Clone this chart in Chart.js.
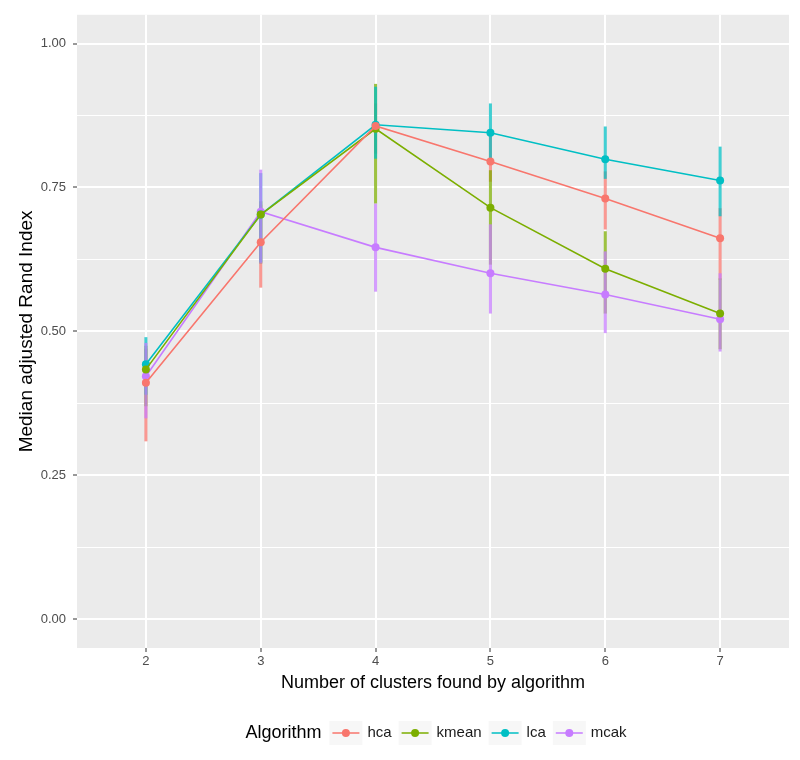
<!DOCTYPE html>
<html>
<head>
<meta charset="utf-8">
<script src="https://cdn.jsdelivr.net/npm/chart.js@4.4.1/dist/chart.umd.min.js"></script>
<style>
    html, body { margin: 0; padding: 0; background: #fff; }
</style>
</head>
<body>
<canvas id="chart" width="800" height="760"></canvas>
<script>
// Values
const clusters = [2, 3, 4, 5, 6, 7];
const algorithms = ['hca', 'kmean', 'lca', 'mcak'];

const hcaMedian = [0.411, 0.655, 0.857, 0.795, 0.731, 0.662];
const hcaLow = [0.309, 0.576, 0.809, 0.760, 0.677, 0.590];
const hcaHigh = [0.470, 0.720, 0.896, 0.839, 0.778, 0.714];

const kmeanMedian = [0.434, 0.703, 0.852, 0.715, 0.609, 0.531];
const kmeanLow = [0.370, 0.618, 0.722, 0.616, 0.531, 0.469];
const kmeanHigh = [0.475, 0.726, 0.930, 0.780, 0.674, 0.592];

const lcaMedian = [0.443, 0.703, 0.859, 0.845, 0.799, 0.762];
const lcaLow = [0.390, 0.620, 0.800, 0.790, 0.765, 0.700];
const lcaHigh = [0.490, 0.775, 0.925, 0.896, 0.856, 0.821];

const mcakMedian = [0.422, 0.708, 0.646, 0.601, 0.564, 0.521];
const mcakLow = [0.349, 0.618, 0.569, 0.531, 0.497, 0.465];
const mcakHigh = [0.480, 0.781, 0.722, 0.686, 0.639, 0.601];

const yTicks = [0, 0.25, 0.5, 0.75, 1];

const medians = [hcaMedian, kmeanMedian, lcaMedian, mcakMedian];
const lows = [hcaLow, kmeanLow, lcaLow, mcakLow];
const highs = [hcaHigh, kmeanHigh, lcaHigh, mcakHigh];
const colors = ['#F8766D', '#7CAE00', '#00BFC4', '#C77CFF'];

const FONT = "'Liberation Sans', Arial, sans-serif";

// major + minor grid positions (ggplot style)
const yGrid = [];
yTicks.forEach((v, i) => {
    yGrid.push(v);
    if (i < yTicks.length - 1) yGrid.push((v + yTicks[i + 1]) / 2);
});

function alpha(hex, a) {
    const n = parseInt(hex.slice(1), 16);
    return `rgba(${(n >> 16) & 255}, ${(n >> 8) & 255}, ${n & 255}, ${a})`;
}

const panelBackground = {
    id: 'panelBackground',
    beforeDraw(chart) {
        const { ctx, chartArea: a } = chart;
        ctx.save();
        ctx.fillStyle = '#EBEBEB';
        ctx.fillRect(a.left, a.top, a.right - a.left, a.bottom - a.top);
        ctx.restore();
    }
};

const errorBars = {
    id: 'errorBars',
    beforeDatasetsDraw(chart) {
        const { ctx, scales: { x, y } } = chart;
        ctx.save();
        ctx.lineWidth = 3;
        chart.data.datasets.forEach((ds) => {
            ctx.strokeStyle = alpha(ds.borderColor, 0.75);
            clusters.forEach((c, j) => {
                const px = x.getPixelForValue(c);
                ctx.beginPath();
                ctx.moveTo(px, y.getPixelForValue(ds.low[j]));
                ctx.lineTo(px, y.getPixelForValue(ds.high[j]));
                ctx.stroke();
            });
        });
        ctx.restore();
    }
};

// legend laid out horizontally under the plot, title on the left
const ggLegend = {
    id: 'ggLegend',
    afterDraw(chart) {
        const { ctx } = chart;
        const cy = 733;
        const keyW = 33, keyH = 24;
        ctx.save();
        ctx.textBaseline = 'middle';
        ctx.font = `18px ${FONT}`;
        const titleW = ctx.measureText('Algorithm').width;
        ctx.font = `15px ${FONT}`;
        const labelW = algorithms.map(a => ctx.measureText(a).width);
        const total = titleW + 8 + labelW.reduce((s, w) => s + keyW + 5 + w, 0) + 7 * (algorithms.length - 1);
        let x = 436 - total / 2;

        ctx.fillStyle = '#000';
        ctx.font = `18px ${FONT}`;
        ctx.fillText('Algorithm', x, cy);
        x += titleW + 8;

        ctx.font = `15px ${FONT}`;
        algorithms.forEach((name, i) => {
            ctx.fillStyle = '#F7F7F7';
            ctx.fillRect(x, cy - keyH / 2, keyW, keyH);
            ctx.strokeStyle = colors[i];
            ctx.lineWidth = 1.5;
            ctx.beginPath();
            ctx.moveTo(x + 3, cy);
            ctx.lineTo(x + keyW - 3, cy);
            ctx.stroke();
            ctx.fillStyle = colors[i];
            ctx.beginPath();
            ctx.arc(x + keyW / 2, cy, 4, 0, Math.PI * 2);
            ctx.fill();
            x += keyW + 5;
            ctx.fillStyle = '#1A1A1A';
            ctx.fillText(name, x, cy);
            x += labelW[i] + 7;
        });
        ctx.restore();
    }
};

new Chart(document.getElementById('chart'), {
    type: 'line',
    data: {
        datasets: algorithms.map((name, i) => ({
            label: name,
            data: clusters.map((c, j) => ({ x: c, y: medians[i][j] })),
            low: lows[i],
            high: highs[i],
            borderColor: colors[i],
            backgroundColor: colors[i],
            borderWidth: 1.6,
            pointRadius: 4,
            pointHoverRadius: 4,
            pointBorderWidth: 0,
            tension: 0
        }))
    },
    options: {
        responsive: false,
        animation: false,
        layout: { padding: { top: 12, right: 11, left: 0, bottom: 0 } },
        plugins: {
            legend: { display: false },
            tooltip: { enabled: false }
        },
        scales: {
            x: {
                type: 'linear',
                min: 1.4,
                max: 7.6,
                afterBuildTicks: (s) => { s.ticks = clusters.map(v => ({ value: v })); },
                afterFit: (s) => { s.height = 112; },
                border: { display: false },
                grid: { color: '#FFFFFF', lineWidth: 2, tickLength: 4, tickColor: '#333333', tickWidth: 1 },
                ticks: { color: '#4D4D4D', font: { family: FONT, size: 13 }, padding: 2, maxRotation: 0, autoSkip: false },
                title: {
                    display: true,
                    text: 'Number of clusters found by algorithm',
                    color: '#000',
                    font: { family: FONT, size: 18 },
                    padding: { top: 0, bottom: 66 }
                }
            },
            y: {
                min: -0.05,
                max: 1.05,
                afterBuildTicks: (s) => { s.ticks = yGrid.map(v => ({ value: v })); },
                afterFit: (s) => { s.width = 77; },
                border: { display: false },
                grid: {
                    color: '#FFFFFF',
                    lineWidth: (c) => yTicks.includes(c.tick.value) ? 2 : 1,
                    tickLength: 4,
                    tickColor: (c) => yTicks.includes(c.tick.value) ? '#333333' : 'rgba(0,0,0,0)',
                    tickWidth: 1
                },
                ticks: {
                    color: '#4D4D4D',
                    font: { family: FONT, size: 13 },
                    padding: 7,
                    autoSkip: false,
                    callback: (v) => yTicks.includes(v) ? v.toFixed(2) : ''
                },
                title: {
                    display: true,
                    text: 'Median adjusted Rand Index',
                    color: '#000',
                    font: { family: FONT, size: 19 },
                    padding: { top: 15, bottom: 0 }
                }
            }
        }
    },
    plugins: [panelBackground, errorBars, ggLegend]
});
</script>
</body>
</html>
